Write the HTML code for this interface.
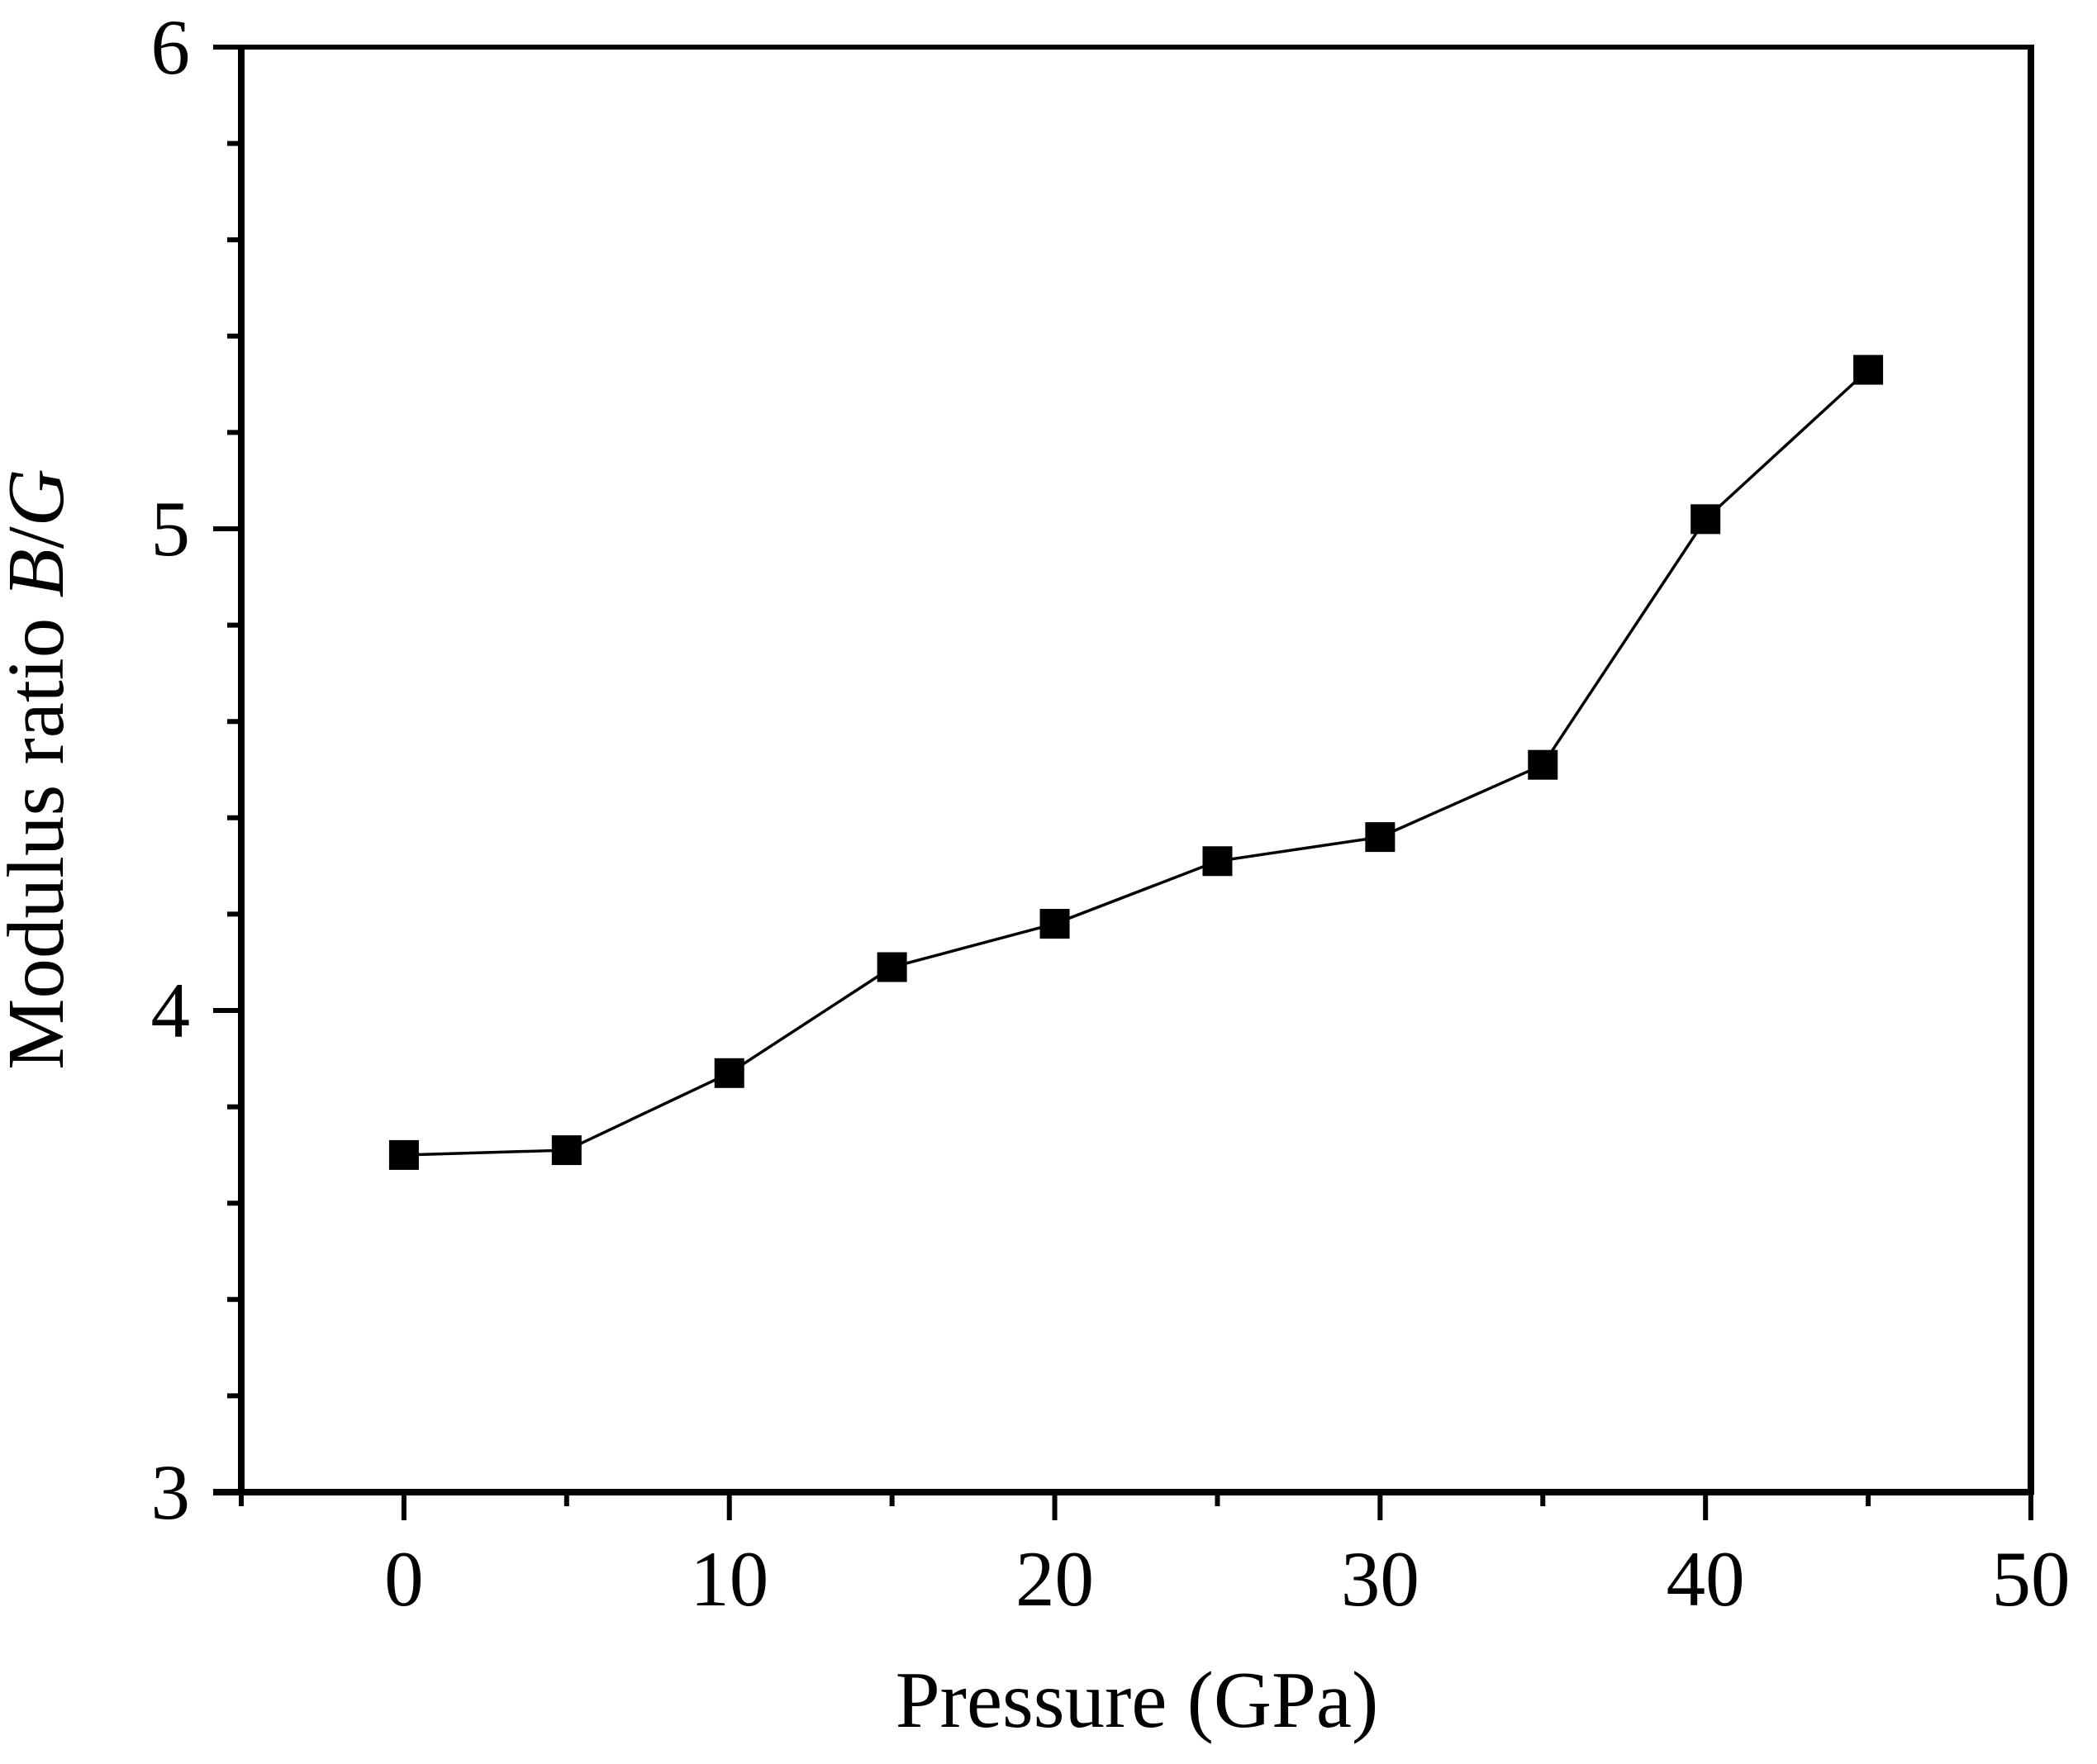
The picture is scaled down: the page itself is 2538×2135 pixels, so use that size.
<!DOCTYPE html>
<html><head><meta charset="utf-8"><style>
html,body{margin:0;padding:0;background:#fff;}
svg{display:block;font-family:"Liberation Serif",serif;}
</style></head><body>
<svg id="chart" width="2538" height="2135" viewBox="0 0 2538 2135" xmlns="http://www.w3.org/2000/svg">
<rect width="2538" height="2135" fill="#fff"/>
<g id="axes"></g>
<g id="series"></g>
<text x="1376" y="2090" font-size="97" text-anchor="middle">Pressure (GPa)</text>
<text transform="translate(76,931) rotate(-90)" font-size="97" text-anchor="middle">Modulus ratio <tspan font-style="italic">B</tspan>/<tspan font-style="italic">G</tspan></text>
</svg>
<script>
const pressures = [0,5,10,15,20,25,30,35,40,45];
const ratios = [3.70,3.71,3.87,4.09,4.18,4.31,4.36,4.51,5.02,5.33];
const xTicks = [0,10,20,30,40,50];
const yTicks = [3,4,5,6];

const L=292,R=2458,T=57,B=1806;
const xMin=-5,xMax=50,yMin=3,yMax=6;
const sx=v=>L+(v-xMin)/(xMax-xMin)*(R-L);
const sy=v=>B-(v-yMin)/(yMax-yMin)*(B-T);
const NS="http://www.w3.org/2000/svg";
function mk(tag,attrs,parent){const e=document.createElementNS(NS,tag);for(const k in attrs)e.setAttribute(k,attrs[k]);parent.appendChild(e);return e;}
const ax=document.getElementById('axes');
let e;
e=mk('rect',{x:L,y:T,width:R-L,height:B-T,fill:'none',stroke:'#000','stroke-width':6},ax);


e=mk('line',{x1:L,y1:T-3,x2:L,y2:B+3,stroke:'#000','stroke-width':8},ax);


e=mk('line',{x1:R,y1:T-3,x2:R,y2:B+3,stroke:'#000','stroke-width':8},ax);


e=mk('line',{x1:L-34,y1:B,x2:R+3,y2:B,stroke:'#000','stroke-width':8},ax);


e=mk('line',{x1:L-34,y1:T,x2:L,y2:T,stroke:'#000','stroke-width':6},ax);


for(let v=3;v<=6.001;v+=0.2){
  const major=Math.abs(v-Math.round(v))<1e-6;
  e=mk('line',{x1:L-(major?34:17),y1:sy(v),x2:L,y2:sy(v),stroke:'#000','stroke-width':6},ax);
  
  
}
yTicks.forEach(v=>{
  e=mk('text',{x:L-62,y:sy(v)+32,'font-size':95,'text-anchor':'end'},ax);
  e.textContent=v;
  
  
});
for(let v=-5;v<=50;v+=5){
  const major=v%10===0;
  e=mk('line',{x1:sx(v),y1:B,x2:sx(v),y2:B+(major?34:17),stroke:'#000','stroke-width':6},ax);
  
  
}
xTicks.forEach(v=>{
  e=mk('text',{x:sx(v),y:1943,'font-size':95,'text-anchor':'middle'},ax);
  e.textContent=v;
  
  
});
const sg=document.getElementById('series');
const pts=pressures.map((p,i)=>sx(p)+','+sy(ratios[i])).join(' ');
e=mk('polyline',{points:pts,fill:'none',stroke:'#000','stroke-width':3.5},sg);


pressures.forEach((p,i)=>{
  e=mk('rect',{x:sx(p)-18,y:sy(ratios[i])-18,width:36,height:36,fill:'#000'},sg);
  
  
});
</script>
</body></html>
